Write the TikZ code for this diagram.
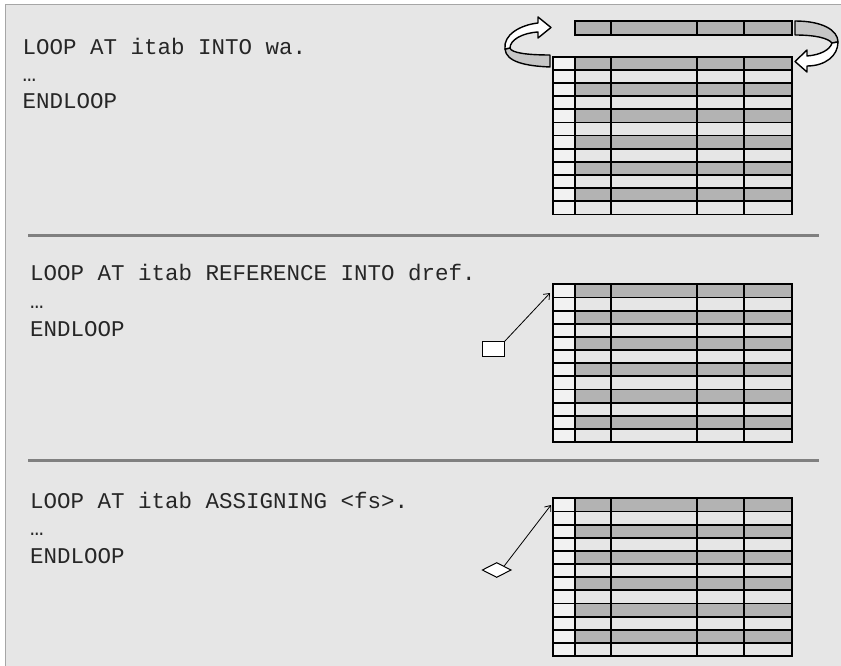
\documentclass[tikz,border=0pt]{standalone}
\usepackage{fontspec}
\setmonofont{Liberation Mono}
\usetikzlibrary{arrows.meta,positioning,shapes.geometric}
\definecolor{panel}{HTML}{E6E6E6}
\definecolor{rowdark}{HTML}{B3B3B3}
\definecolor{rowlight}{HTML}{E6E6E6}
\definecolor{keycol}{HTML}{F2F2F2}
\definecolor{band}{HTML}{C6C6C6}
\definecolor{sepline}{HTML}{808080}
\definecolor{frameline}{HTML}{A6A6A6}

% internal table with 12 rows, #1 = top edge
\newcommand{\itabgrid}[1]{%
  \foreach \r in {0,2,...,10}{
    \fill[rowdark] (575,{#1+\r*13.15}) rectangle (792,{#1+(\r+1)*13.15});
    \fill[rowlight] (575,{#1+(\r+1)*13.15}) rectangle (792,{#1+(\r+2)*13.15});
  }
  \fill[keycol] (553,#1) rectangle (575,{#1+157.8});
  \foreach \r in {1,...,11}
    \draw[grid] (553,{#1+\r*13.15}) -- (792,{#1+\r*13.15});
  \foreach \c in {575,610.7,697.3,744.3}
    \draw[grid] (\c,#1) -- (\c,{#1+157.8});
  \draw[grid] (553,#1) rectangle (792,{#1+157.8});
}

\begin{document}
\begin{tikzpicture}[x=1pt,y={(0pt,-1pt)},
  grid/.style={line width=1.8pt,line join=miter},
  code/.style={anchor=base west,inner sep=0pt,font=\ttfamily\fontsize{22.5}{27}\selectfont,text=black!85},
  ribbon/.style={draw=black,line width=1.4pt,line join=round},
  ptr/.style={-{Straight Barb[length=5pt,width=8pt]},line width=0.8pt},
  sep/.style={draw=sepline,line width=2.8pt}]
\useasboundingbox (0,0) rectangle (841,666);
\fill[white] (0,0) rectangle (841,666);
\fill[panel] (5,5) rectangle (841,666);
\draw[frameline,line width=1pt] (5,666) -- (5,5) -- (841,5);

% section 1: LOOP ... INTO wa
\node[code] (intoA) at (22.5,54.5) {LOOP AT itab INTO wa.};
\node[code] (intoB) at (22.5,81.5) {…};
\node[code] (intoC) at (22.5,108.5) {ENDLOOP};
\itabgrid{56.7}
\fill[rowdark] (575,20.7) rectangle (792,34.7);
\foreach \c in {610.7,697.3,744.3}
  \draw[grid] (\c,20.7) -- (\c,34.7);
\draw[grid] (575,20.7) rectangle (792,34.7);
% curved arrows round the work area
\filldraw[ribbon,fill=band] (505,49) .. controls (506,62) and (526,66) .. (550,67)
  -- (550,55) .. controls (528,55) and (511,53) .. (510,48) -- cycle;
\filldraw[ribbon,fill=white] (505,49) .. controls (503,35) and (520,25) .. (538,23)
  -- (538,17) -- (551,27.5) -- (538,38) -- (538,32)
  .. controls (522,33) and (510,40) .. (510,48) -- cycle;
\filldraw[ribbon,fill=band] (795,21) .. controls (822,21) and (838,30) .. (838,42)
  -- (832,43) .. controls (828,38) and (815,35) .. (795,35) -- cycle;
\filldraw[ribbon,fill=white] (838,42) .. controls (838,56) and (825,66) .. (807,66)
  -- (807,72) -- (795,61.5) -- (807,50) -- (807,56)
  .. controls (820,55) and (830,50) .. (832,43) -- cycle;

\draw[sep] (28,235.5) -- (819,235.5);

% section 2: REFERENCE INTO dref
\node[code] (refA) at (30,280.7) {LOOP AT itab REFERENCE INTO dref.};
\node[code] (refB) at (30,308.3) {…};
\node[code] (refC) at (30,336) {ENDLOOP};
\itabgrid{284.3}
\node[draw,fill=white,line width=1pt,minimum width=22pt,minimum height=15pt,inner sep=0pt] (dref) at (493.3,349.2) {};
\coordinate (drefrow) at (550,293);
\draw[ptr] (dref.north east) -- (drefrow);

\draw[sep] (28,460.8) -- (819,460.8);

% section 3: ASSIGNING <fs>
\node[code] (fsA) at (30,508.3) {LOOP AT itab ASSIGNING <fs>.};
\node[code] (fsB) at (30,535.7) {…};
\node[code] (fsC) at (30,563) {ENDLOOP};
\itabgrid{498.3}
\node[diamond,aspect=2,draw,fill=white,line width=1pt,minimum width=29pt,minimum height=15pt,inner sep=0pt] (fs) at (496.7,570) {};
\coordinate (fsrow) at (551,505);
\draw[ptr] (fs.north east) -- (fsrow);
\end{tikzpicture}
\end{document}
